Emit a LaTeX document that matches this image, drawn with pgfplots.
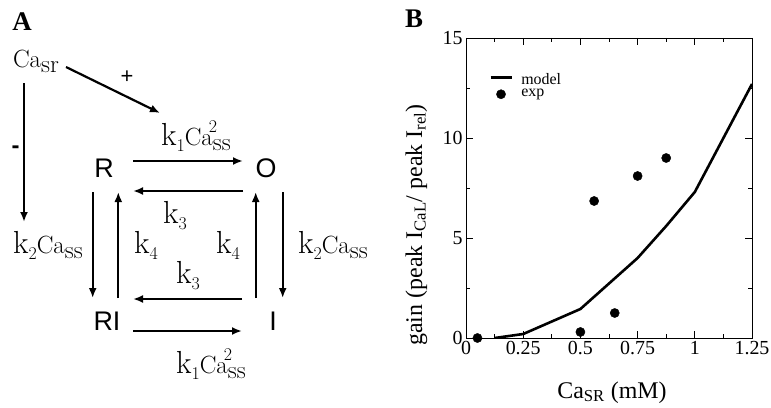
\documentclass[border=0pt]{standalone}
\usepackage{pgfplots}
\pgfplotsset{compat=1.18}
\usepackage{fontspec}
\newfontfamily\tm{Liberation Serif}
\newfontfamily\hv{Liberation Sans}
\usetikzlibrary{arrows.meta}

% rate labels of the scheme: big k, smaller Ca
\newcommand\heavy{\addfontfeatures{FakeBold=1.2}}
\newcommand\kk[1]{{\fontsize{32}{32}\selectfont\heavy k}\raisebox{-6bp}{\fontsize{18}{18}\selectfont\heavy #1}}
\newcommand\Ca[1]{{\fontsize{25}{25}\selectfont\heavy Ca\raisebox{-5bp}{#1}}}
\newcommand\Casq{{\fontsize{25}{25}\selectfont\heavy Ca\raisebox{-5bp}{\rlap{\hspace{-4bp}\raisebox{18bp}{\fontsize{18}{18}\selectfont\heavy 2}}ss}}}

\pgfplotstableread{
x y
0.125 0
0.25 0.2
0.5 1.45
0.75 4.0
0.875 5.6
1.0 7.3
1.25 12.7
}\model

\pgfplotstableread{
x y
0.05 0
0.5 0.3
0.56 6.85
0.65 1.25
0.75 8.1
0.875 9.0
}\expdata

\begin{document}
\begin{tikzpicture}[x=1bp,y=1bp]
\useasboundingbox (0,0) rectangle (771,407);

% panel A, coordinates in pixels measured from the top
\begin{scope}[shift={(0,407)},yscale=-1,line width=2.2bp,
  >={Latex[length=10bp,width=8bp]}]
\node[font=\tm\bfseries\fontsize{27}{27}\selectfont] at (22,22) {A};
\node[anchor=base west,inner sep=0] at (12,67) {\Ca{sr}};
\draw[->] (66,67) -- (160,113);
\node[font=\hv\fontsize{22}{22}\selectfont] at (127,77) {+};
\draw[->] (24,83) -- (24,222);
\node[font=\hv\bfseries\fontsize{24}{24}\selectfont] at (15.5,150) {-};

\node[anchor=base west,inner sep=0] at (160,145) {\kk{1}\Casq};
\node[anchor=base west,inner sep=0] at (175,373) {\kk{1}\Casq};
\node[anchor=base west,inner sep=0] at (12,253) {\kk{2}\Ca{ss}};
\node[anchor=base west,inner sep=0] at (297,253) {\kk{2}\Ca{ss}};
\node[anchor=base west,inner sep=0] at (162,223) {\kk{3}};
\node[anchor=base west,inner sep=0] at (175,283) {\kk{3}};
\node[anchor=base west,inner sep=0] at (133,253) {\kk{4}};
\node[anchor=base west,inner sep=0] at (215,253) {\kk{4}};

\begin{scope}[every node/.style={font=\hv\fontsize{27}{27}\selectfont,inner sep=0}]
\node[anchor=base] at (104,177) {R};
\node[anchor=base] at (266,177) {O};
\node[anchor=base] at (107,330) {RI};
\node[anchor=base] at (273,330) {I};
\end{scope}

\draw[->] (133,161) -- (243,161);
\draw[->] (243,191) -- (133,191);
\draw[->] (92.7,192) -- (92.7,298);
\draw[->] (118.3,298) -- (118.3,192);
\draw[->] (255.7,298) -- (255.7,192);
\draw[->] (282.7,192) -- (282.7,298);
\draw[->] (242,299) -- (133,299);
\draw[->] (133,331) -- (242,331);
\end{scope}

% panel B
\node[font=\tm\bfseries\fontsize{27}{27}\selectfont] at (414,388) {B};
\begin{axis}[
  at={(466bp,69bp)}, anchor=south west, scale only axis,
  width=286bp, height=300bp,
  xmin=0, xmax=1.25, ymin=0, ymax=15,
  xtick={0,0.25,0.5,0.75,1,1.25},
  xticklabels={0,0.25,0.5,0.75,1,1.25},
  ytick={0,5,10,15}, minor x tick num=1, minor y tick num=1,
  tick align=inside, major tick length=7bp, minor tick length=4bp,
  axis line style={line width=0.8bp},
  every tick/.style={black,line width=0.8bp},
  /pgf/number format/assume math mode=true,
  tick label style={font=\tm\fontsize{20}{20}\selectfont},
  legend style={draw=none,fill=none,at={(0.07,0.895)},anchor=north west,
    font=\tm\fontsize{16}{16}\selectfont,row sep=0bp,
    nodes={inner sep=1.5bp}},
  legend cell align=left,
]
\addplot[black,line width=2.6bp,
  legend image code/.code={\draw[black,line width=2.6bp] (0bp,2bp) -- (21bp,2bp);
    \path (28bp,0bp);}]
  table[x=x,y=y] {\model};
\addlegendentry{model}
\addplot[only marks,mark=*,mark size=4.6bp,black,
  legend image code/.code={\fill[black] (10.5bp,-1bp) circle (4.6bp);
    \path (28bp,0bp);}]
  table[x=x,y=y] {\expdata};
\addlegendentry{exp}
\end{axis}
\node[anchor=base,font=\tm\fontsize{24}{24}\selectfont] at (612,9)
  {Ca\textsubscript{SR} (mM)};
\node[anchor=base,rotate=90,font=\tm\fontsize{24}{24}\selectfont] at (422,182)
  {gain (peak I\textsubscript{CaL}/ peak I\textsubscript{rel})};
\end{tikzpicture}
\end{document}
